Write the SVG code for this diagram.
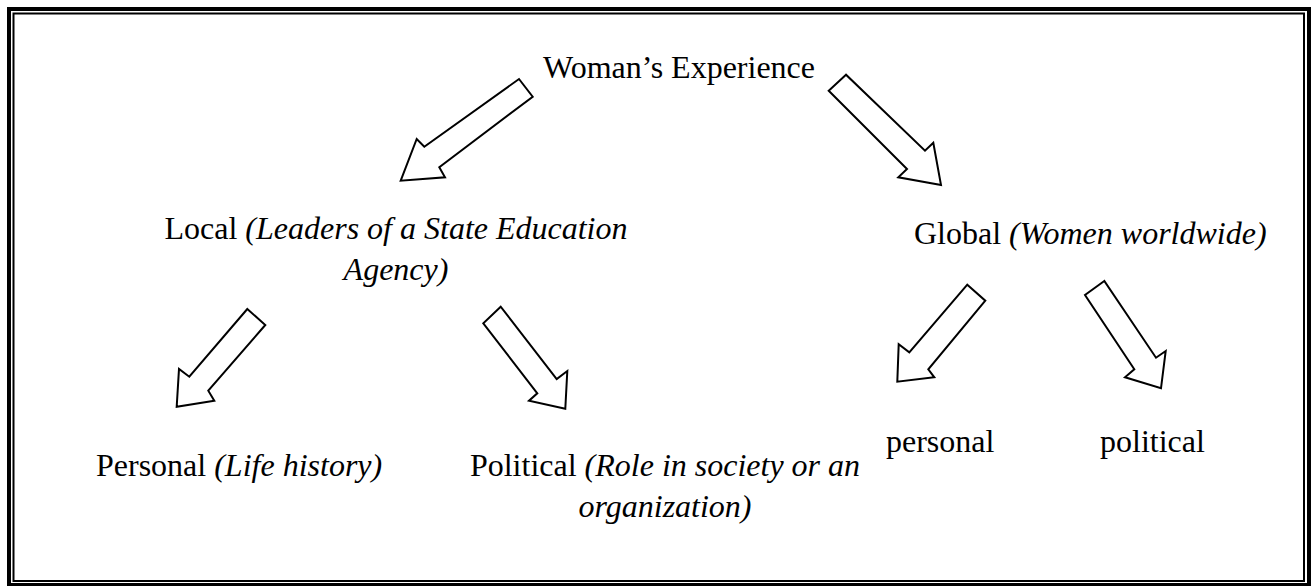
<svg xmlns="http://www.w3.org/2000/svg" width="1315" height="586" viewBox="0 0 1315 586">
  <style>
    .lbl { font-family: "Liberation Serif", "Times New Roman", serif; font-size: 32px; fill: #000; }
    .it { font-style: italic; }
    .arrow { fill: #fff; stroke: #000; stroke-width: 2; stroke-linejoin: miter; }
  </style>
  <rect width="1315" height="586" fill="#fff"/>
  <!-- double frame -->
  <g id="frame" fill="none" stroke="#000">
    <rect x="9" y="9" width="1300" height="576" stroke-width="4"/>
    <rect x="13.5" y="13.5" width="1290.5" height="567.5" stroke-width="2"/>
  </g>

  <g id="connectors">
    <polygon class="arrow" points="519,79 532.7,96.7 439.3,167.3 445,177.3 400.7,180.7 416.7,139 424.3,146.7"/>
    <polygon class="arrow" points="846,74.7 828.7,90.7 907,169 898.3,177.3 941,185 933.3,142.7 925,150.7"/>
    <polygon class="arrow" points="247.3,309 265.3,325 208.3,390.7 214.3,400.7 176.7,406.7 179,369 189.3,376.7"/>
    <polygon class="arrow" points="500.7,306.7 483.3,323.3 537.3,393.3 529,400.7 565.3,408.7 567.3,371 556.7,379"/>
    <polygon class="arrow" points="967.3,284.7 985.3,300.7 928.3,369.3 934.3,377.3 897.3,381.7 898.7,344.3 909.3,352.3"/>
    <polygon class="arrow" points="1104.3,281 1085,295 1134.3,369.3 1125,377.3 1161,388.3 1165.7,351 1156,357.7"/>
  </g>

  <g id="root">
    <text class="lbl" x="543" y="78">Woman’s Experience</text>
  </g>
  <g id="local">
    <text class="lbl" x="396" y="239" text-anchor="middle">Local <tspan class="it">(Leaders of a State Education</tspan></text>
    <text class="lbl it" x="396" y="280" text-anchor="middle">Agency)</text>
  </g>
  <g id="global">
    <text class="lbl" x="914" y="244">Global <tspan class="it">(Women worldwide)</tspan></text>
  </g>
  <g id="local-personal">
    <text class="lbl" x="96" y="476">Personal <tspan class="it">(Life history)</tspan></text>
  </g>
  <g id="local-political">
    <text class="lbl" x="665" y="476" text-anchor="middle">Political <tspan class="it">(Role in society or an</tspan></text>
    <text class="lbl it" x="665" y="517" text-anchor="middle">organization)</text>
  </g>
  <g id="global-personal">
    <text class="lbl" x="886" y="452">personal</text>
  </g>
  <g id="global-political">
    <text class="lbl" x="1100" y="452">political</text>
  </g>
</svg>
